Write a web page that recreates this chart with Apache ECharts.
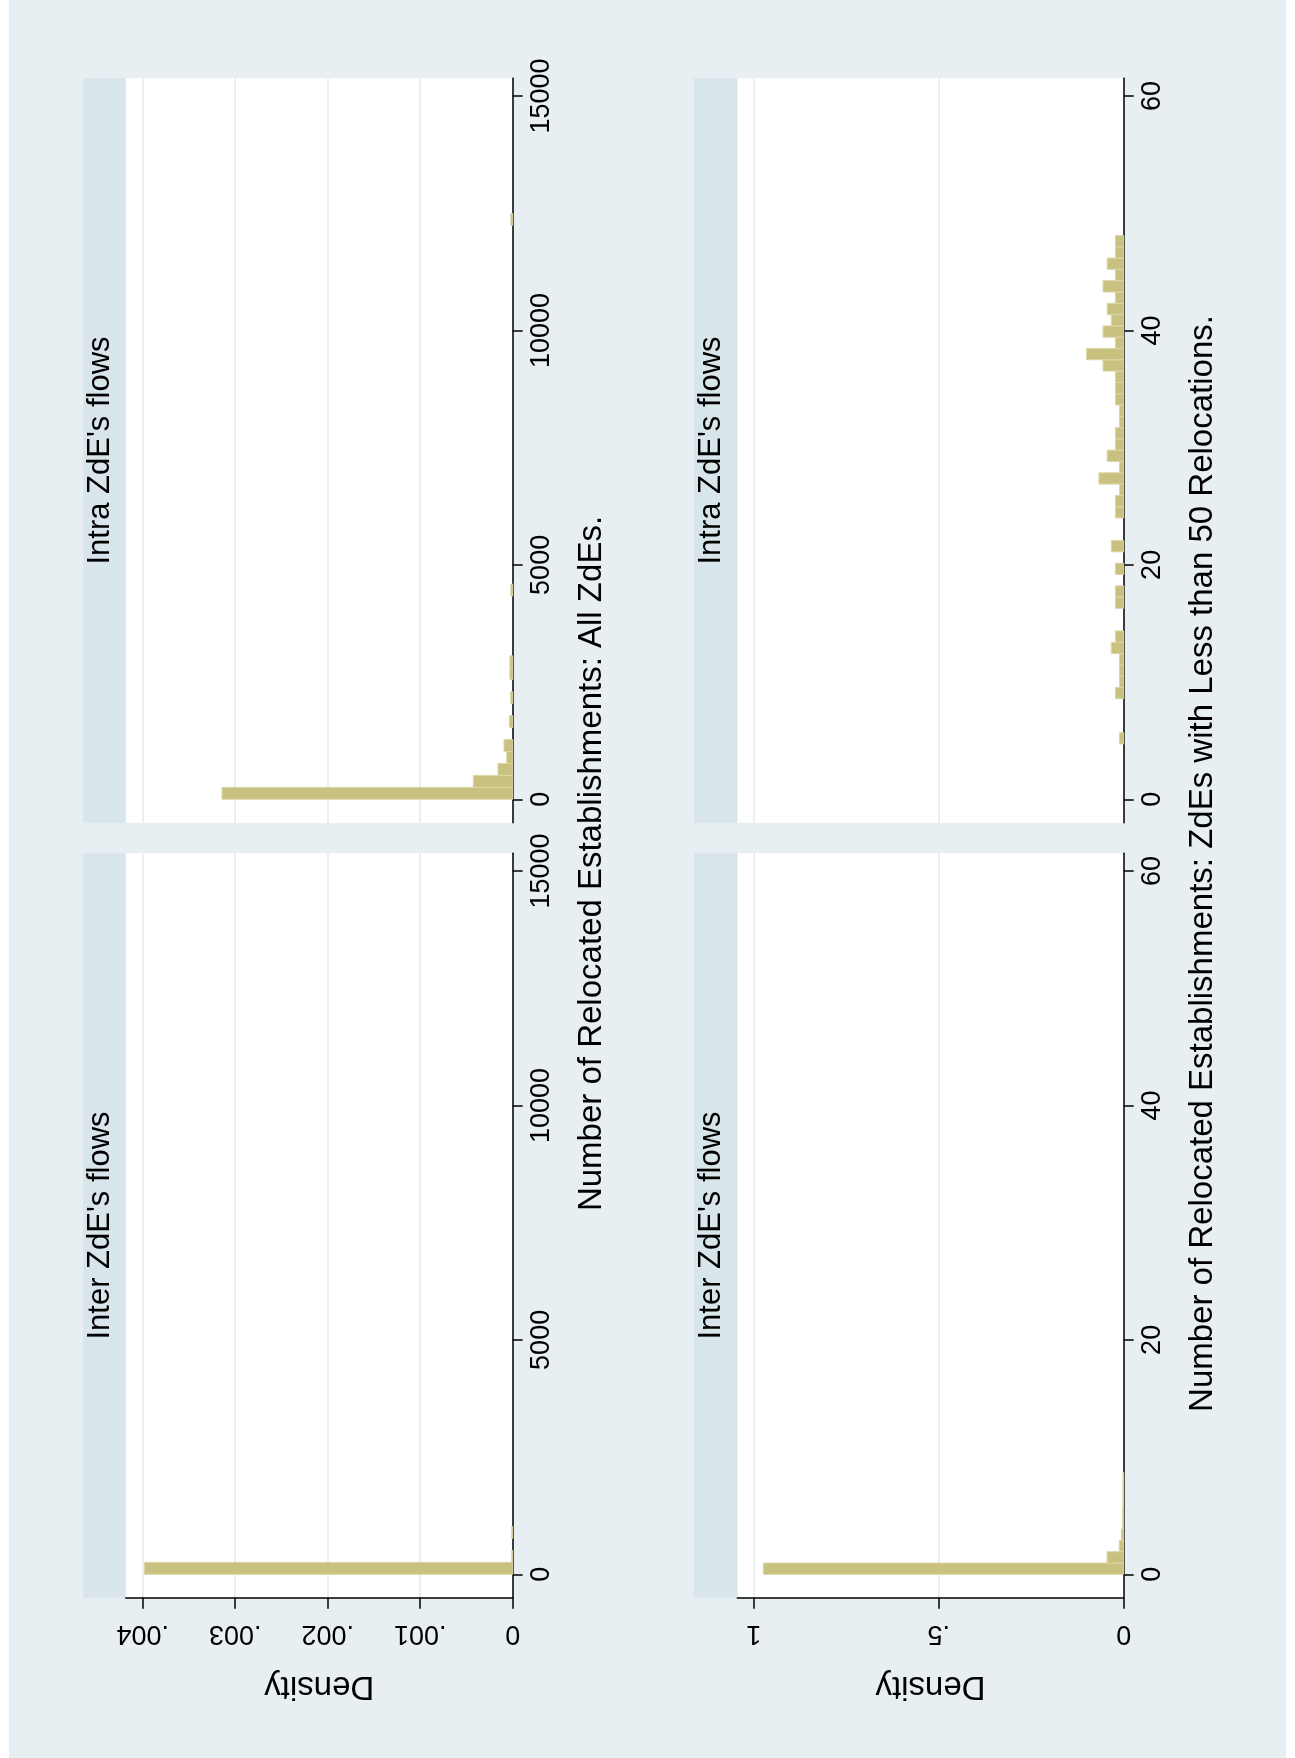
<!DOCTYPE html>
<html>
<head>
<meta charset="utf-8">
<script src="https://cdn.jsdelivr.net/npm/echarts@6/dist/echarts.min.js"></script>
<style>
html,body{margin:0;padding:0;background:#fff;}
#chart{width:1295px;height:1758px;}
</style>
</head>
<body>
<div id="chart"></div>
<script>
// ---------------- DATA ----------------
// Panel titles (strip labels)
const stripTop = "Intra ZdE's flows";
const stripBottom = "Inter ZdE's flows";
const titleLeft = "Number of Relocated Establishments: All ZdEs.";
const titleRight = "Number of Relocated Establishments: ZdEs with Less than 50 Relocations.";
const densityTitle = "Density";

// Tick values
const ticksAll = [0, 5000, 10000, 15000];
const ticksLess50 = [0, 20, 40, 60];
const densTicksAll = [0, 0.001, 0.002, 0.003, 0.004];
const densTicksLess50 = [0, 0.5, 1];

// Histogram: Intra flows, all ZdEs (bin width 255)
const intraAllWidth = 255;
const intraAllLower = [0, 255, 510, 765, 1020, 1530, 2040, 2550, 2805, 4335, 12240];
const intraAllDensity = [0.003143, 0.000426, 0.000159, 0.000065, 0.000094, 0.000036, 0.000022, 0.00003, 0.00003, 0.00002, 0.00002];

// Histogram: Inter flows, all ZdEs
const interAllWidth = 255;
const interAllLower = [0, 255, 765];
const interAllDensity = [0.00398, 0.00001, 0.00001];

// Histogram: Intra flows, ZdEs with < 50 relocations (bin width 0.964)
const intraLessWidth = 0.964;
const intraLessLower = [4.72, 8.58, 9.54, 10.50, 11.47, 12.43, 13.40, 16.29, 17.25, 19.18, 21.11,
  24.00, 24.96, 25.93, 26.89, 27.86, 28.82, 29.78, 30.75, 31.71, 32.68, 33.64, 34.60, 35.57,
  36.53, 37.50, 38.46, 39.42, 40.39, 41.35, 42.32, 43.28, 44.24, 45.21, 46.17, 47.14];
const intraLessDensity = [0.0112, 0.0223, 0.0112, 0.0112, 0.0112, 0.0335, 0.0223, 0.0223, 0.0223, 0.0223, 0.0335,
  0.0223, 0.0223, 0.0112, 0.0669, 0.0112, 0.0446, 0.0223, 0.0223, 0.0112, 0.0112, 0.0223, 0.0223, 0.0223,
  0.0558, 0.1004, 0.0223, 0.0558, 0.0335, 0.0446, 0.0223, 0.0558, 0.0223, 0.0446, 0.0223, 0.0223];

// Histogram: Inter flows, ZdEs with < 50 relocations
const interLessWidth = 0.964;
const interLessLower = [0, 0.964, 1.93, 2.89, 3.86, 4.82, 5.78, 6.75, 7.71];
const interLessDensity = [0.974, 0.045, 0.012, 0.006, 0.003, 0.003, 0.002, 0.002, 0.002];

// ---------------- STYLE / LAYOUT ----------------
const FONT = "'Liberation Sans', Arial, Helvetica, sans-serif";
const BG = '#e8eff2';
const STRIP = '#d8e5ea';
const GRIDLINE = '#e1eaee';
const BAR_FILL = '#c9c17f';
const BAR_LINE = '#dcd6a6';

const colL = {strip: 83.3, left: 125.7, width: 387};
const colR = {strip: 694, left: 737.3, width: 386.4};
const rowT = {top: 78.3, height: 744.4};
const rowB = {top: 853.3, height: 744.4};

const panels = [
  {col: colL, row: rowT, lower: intraAllLower, dens: intraAllDensity, w: intraAllWidth,
   yMin: -499, yMax: 15377, yTicks: ticksAll, dMax: 0.0041838, dTicks: densTicksAll, bottom: false, strip: stripTop},
  {col: colL, row: rowB, lower: interAllLower, dens: interAllDensity, w: interAllWidth,
   yMin: -499, yMax: 15377, yTicks: ticksAll, dMax: 0.0041838, dTicks: densTicksAll, bottom: true, strip: stripBottom},
  {col: colR, row: rowT, lower: intraLessLower, dens: intraLessDensity, w: intraLessWidth,
   yMin: -1.996, yMax: 61.51, yTicks: ticksLess50, dMax: 1.04432, dTicks: densTicksLess50, bottom: false, strip: stripTop},
  {col: colR, row: rowB, lower: interLessLower, dens: interLessDensity, w: interLessWidth,
   yMin: -1.996, yMax: 61.51, yTicks: ticksLess50, dMax: 1.04432, dTicks: densTicksLess50, bottom: true, strip: stripBottom}
];

function densFmt(v) {
  if (v === 0) return '0';
  return String(+v.toFixed(4)).replace(/^0\./, '.');
}

const axisLineStyle = {color: '#000', width: 1.5};

const grids = [], xAxes = [], yAxes = [], series = [], graphics = [];

// white page margins
graphics.push({type: 'rect', shape: {x: 0, y: 0, width: 9, height: 1758}, style: {fill: '#fff'}, silent: true});
graphics.push({type: 'rect', shape: {x: 1286, y: 0, width: 9, height: 1758}, style: {fill: '#fff'}, silent: true});

panels.forEach((p, i) => {
  grids.push({left: p.col.left, top: p.row.top, width: p.col.width, height: p.row.height,
    show: true, backgroundColor: '#fff', borderWidth: 0, containLabel: false});
  xAxes.push({
    gridIndex: i, type: 'value', inverse: true, min: 0, max: p.dMax, position: 'bottom',
    axisLine: {show: p.bottom, onZero: false, lineStyle: axisLineStyle},
    axisTick: {show: p.bottom, length: 11, lineStyle: axisLineStyle, customValues: p.dTicks},
    axisLabel: {show: p.bottom, rotate: 180, margin: 22, fontSize: 27, fontFamily: FONT, color: '#000',
      customValues: p.dTicks, formatter: densFmt},
    splitLine: {show: true, lineStyle: {color: GRIDLINE, width: 1.5}}
  });
  yAxes.push({
    gridIndex: i, type: 'value', position: 'right', min: p.yMin, max: p.yMax,
    axisLine: {show: true, onZero: false, lineStyle: axisLineStyle},
    axisTick: {show: true, length: 10, lineStyle: axisLineStyle, customValues: p.yTicks},
    axisLabel: {show: true, rotate: 90, margin: 15, fontSize: 27, fontFamily: FONT, color: '#000',
      customValues: p.yTicks, formatter: v => String(v)},
    splitLine: {show: false}
  });
  const data = p.lower.map((lo, k) => [lo, lo + p.w, p.dens[k]]);
  series.push({
    type: 'custom', xAxisIndex: i, yAxisIndex: i, coordinateSystem: 'cartesian2d',
    encode: {x: 2, y: [0, 1]}, data: data, silent: true, clip: false,
    renderItem: function (params, api) {
      const lo = api.value(0), hi = api.value(1), d = api.value(2);
      const a = api.coord([d, hi]);
      const b = api.coord([0, lo]);
      return {
        type: 'rect',
        shape: {x: Math.min(a[0], b[0]), y: Math.min(a[1], b[1]),
                width: Math.abs(b[0] - a[0]), height: Math.abs(b[1] - a[1])},
        style: {fill: BAR_FILL, stroke: BAR_LINE, lineWidth: 1}
      };
    }
  });
  // strip
  graphics.push({type: 'rect', shape: {x: p.col.strip, y: p.row.top, width: p.col.left - p.col.strip, height: p.row.height},
    style: {fill: STRIP}, silent: true});
  graphics.push({type: 'text', x: p.col.strip + 17, y: p.row.top + p.row.height / 2, rotation: Math.PI / 2, silent: true,
    style: {text: p.strip, font: '31px ' + FONT, fill: '#000', align: 'center', verticalAlign: 'middle'}});
  // Density title under bottom panels
  if (p.bottom) {
    graphics.push({type: 'text', x: p.col.left + p.col.width / 2, y: 1686, rotation: Math.PI, silent: true,
      style: {text: densityTitle, font: '33px ' + FONT, fill: '#000', align: 'center', verticalAlign: 'middle'}});
  }
});

// axis titles (right of each column)
graphics.push({type: 'text', x: 592, y: 863.5, rotation: Math.PI / 2, silent: true,
  style: {text: titleLeft, font: '33px ' + FONT, fill: '#000', align: 'center', verticalAlign: 'middle'}});
graphics.push({type: 'text', x: 1203, y: 863.5, rotation: Math.PI / 2, silent: true,
  style: {text: titleRight, font: '33px ' + FONT, fill: '#000', align: 'center', verticalAlign: 'middle'}});

const chart = echarts.init(document.getElementById('chart'), null, {renderer: 'canvas'});
chart.setOption({
  animation: false,
  backgroundColor: BG,
  grid: grids,
  xAxis: xAxes,
  yAxis: yAxes,
  series: series,
  graphic: {elements: graphics}
});
</script>
</body>
</html>
